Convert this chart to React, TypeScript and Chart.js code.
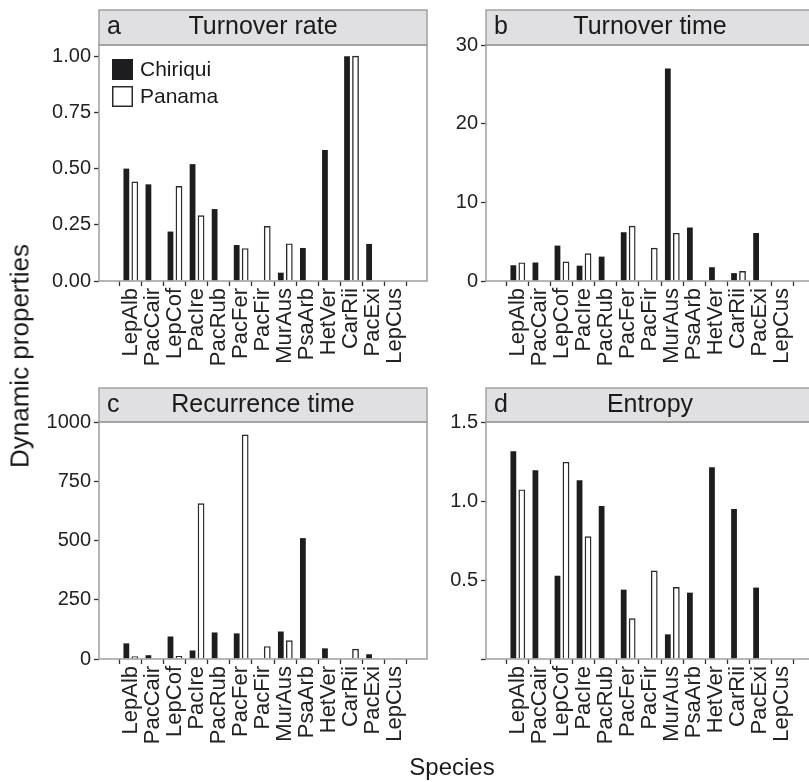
import React, { useEffect, useRef } from "react";
import { Chart, registerables } from "chart.js";

Chart.register(...registerables);

const FONT = "'Liberation Sans', Arial, Helvetica, sans-serif";

const species = ["LepAlb", "PacCair", "LepCof", "PacIre", "PacRub", "PacFer", "PacFir", "MurAus", "PsaArb", "HetVer", "CarRii", "PacExi", "LepCus"];
const seriesNames = ["Chiriqui", "Panama"];

const turnoverRateChiriqui = [0.5, 0.43, 0.22, 0.52, 0.32, 0.16, null, 0.037, 0.147, 0.583, 1.0, 0.165, null];
const turnoverRatePanama = [0.44, null, 0.42, 0.29, null, 0.144, 0.242, 0.165, null, null, 1.0, null, null];

const turnoverTimeChiriqui = [2.0, 2.35, 4.5, 1.95, 3.1, 6.2, null, 27.0, 6.8, 1.75, 1.0, 6.1, null];
const turnoverTimePanama = [2.3, null, 2.4, 3.45, null, 6.95, 4.15, 6.05, null, null, 1.2, null, null];

const recurrenceChiriqui = [66, 16, 95, 36, 112, 108, null, 116, 510, 45, null, 20, null];
const recurrencePanama = [9, null, 11, 655, null, 945, 52, 77, null, null, 41, null, null];

const entropyChiriqui = [1.315, 1.195, 0.527, 1.132, 0.969, 0.439, null, 0.156, 0.42, 1.214, 0.95, 0.452, null];
const entropyPanama = [1.07, null, 1.244, 0.773, null, 0.254, 0.557, 0.452, null, null, null, null, null];

const rateTicks = [0, 0.25, 0.5, 0.75, 1.0];
const timeTicks = [0, 10, 20, 30];
const recurrenceTicks = [0, 250, 500, 750, 1000];
const entropyTicks = [0, 0.5, 1.0, 1.5];

type Vals = (number | null)[];

interface PanelProps {
  letter: string;
  title: string;
  chiriqui: Vals;
  panama: Vals;
  ymax: number;
  ticks: number[];
  fmt: (v: number) => string;
  left: number;
  top: number;
  width: number;
  height: number;
  plotLeft: number;
  plotTop: number;
  plotRight: number;
  plotBottom: number;
  stripH: number;
  legend?: boolean;
}

const decoPlugin = {
  id: "deco",
  beforeDraw(chart: any, _args: any, opts: any) {
    const { ctx, chartArea: ca } = chart;
    ctx.save();
    const sh = opts.stripH;
    ctx.fillStyle = "#e0e0e2";
    ctx.fillRect(ca.left, ca.top - sh, ca.right - ca.left, sh);
    ctx.strokeStyle = "#a3a3a3";
    ctx.lineWidth = 1.5;
    ctx.strokeRect(ca.left, ca.top - sh, ca.right - ca.left, sh);
    ctx.fillStyle = "#1a1a1a";
    ctx.font = `25px ${FONT}`;
    ctx.textBaseline = "middle";
    ctx.textAlign = "left";
    ctx.fillText(opts.letter, ca.left + 8, ca.top - sh / 2);
    ctx.textAlign = "center";
    ctx.fillText(opts.title, (ca.left + ca.right) / 2, ca.top - sh / 2);
    ctx.restore();
  },
  afterDraw(chart: any, _args: any, opts: any) {
    const { ctx, chartArea: ca } = chart;
    ctx.save();
    ctx.strokeStyle = "#9e9e9e";
    ctx.lineWidth = 1.5;
    ctx.strokeRect(ca.left, ca.top, ca.right - ca.left, ca.bottom - ca.top);
    if (opts.legend) {
      const ds = chart.data.datasets;
      const x = ca.left + 13;
      const sz = 21;
      ds.forEach((d: any, i: number) => {
        const y = ca.top + 14 + i * 27;
        ctx.fillStyle = d.backgroundColor;
        ctx.fillRect(x, y, sz, sz);
        if (d.borderWidth) {
          ctx.strokeStyle = d.borderColor;
          ctx.lineWidth = 1.5;
          ctx.strokeRect(x + 0.75, y + 0.75, sz - 1.5, sz - 1.5);
        }
        ctx.fillStyle = "#1a1a1a";
        ctx.font = `21px ${FONT}`;
        ctx.textBaseline = "middle";
        ctx.textAlign = "left";
        ctx.fillText(d.label, x + sz + 7, y + sz / 2 + 1);
      });
    }
    ctx.restore();
  },
};

function Panel(p: PanelProps) {
  const ref = useRef<HTMLCanvasElement>(null);
  useEffect(() => {
    const toPts = (arr: Vals) =>
      arr
        .map((v, i) => (v == null ? null : { x: i, y: v }))
        .filter((d) => d !== null) as { x: number; y: number }[];
    const chart = new Chart(ref.current as HTMLCanvasElement, {
      type: "bar",
      data: {
        datasets: [
          {
            label: seriesNames[0],
            data: toPts(p.chiriqui),
            backgroundColor: "#1d1d20",
            borderWidth: 0,
            categoryPercentage: 0.77,
            barPercentage: 0.68,
          },
          {
            label: seriesNames[1],
            data: toPts(p.panama),
            backgroundColor: "#ffffff",
            borderColor: "#2a2a2a",
            borderWidth: 1.4,
            categoryPercentage: 0.77,
            barPercentage: 0.68,
            inflateAmount: 0.5,
          },
        ] as any,
      },
      options: {
        responsive: false,
        animation: false,
        devicePixelRatio: 1,
        layout: { padding: { top: p.plotTop, left: 0, right: p.width - p.plotRight, bottom: 0 } },
        plugins: {
          legend: { display: false },
          tooltip: { enabled: false },
          deco: { letter: p.letter, title: p.title, stripH: p.stripH, legend: !!p.legend },
        } as any,
        scales: {
          x: {
            type: "linear",
            min: -0.86,
            max: 12.86,
            afterBuildTicks: (s: any) => {
              s.ticks = species.map((_, i) => ({ value: i }));
            },
            afterFit: (s: any) => {
              s.height = p.height - p.plotBottom;
            },
            grid: { drawOnChartArea: false, tickLength: 5, tickColor: "#333", tickWidth: 1.3 },
            border: { display: false },
            ticks: {
              autoSkip: false,
              minRotation: 90,
              maxRotation: 90,
              padding: 2,
              color: "#222",
              font: { size: 22, family: FONT },
              callback: (v: any) => species[v] ?? "",
            },
          },
          y: {
            type: "linear",
            min: 0,
            max: p.ymax,
            afterBuildTicks: (s: any) => {
              s.ticks = p.ticks.map((v) => ({ value: v }));
            },
            afterFit: (s: any) => {
              s.width = p.plotLeft;
            },
            grid: { drawOnChartArea: false, tickLength: 5, tickColor: "#333", tickWidth: 1.3 },
            border: { display: false },
            ticks: {
              padding: 3,
              color: "#222",
              font: { size: 20, family: FONT },
              callback: (v: any) => p.fmt(Number(v)),
            },
          },
        },
      } as any,
      plugins: [decoPlugin as any],
    });
    return () => chart.destroy();
  }, []);
  return (
    <canvas
      ref={ref}
      width={p.width}
      height={p.height}
      style={{ position: "absolute", left: p.left, top: p.top, width: p.width, height: p.height }}
    />
  );
}

export default function App() {
  return (
    <div
      style={{
        position: "absolute",
        left: 0,
        top: 0,
        width: 809,
        height: 782,
        overflow: "hidden",
        background: "#fff",
        fontFamily: FONT,
      }}
    >
      <Panel
        letter="a"
        title="Turnover rate"
        chiriqui={turnoverRateChiriqui}
        panama={turnoverRatePanama}
        ymax={1.05}
        ticks={rateTicks}
        fmt={(v) => v.toFixed(2)}
        left={0}
        top={0}
        width={440}
        height={385}
        plotLeft={99}
        plotTop={45}
        plotRight={427}
        plotBottom={281}
        stripH={35}
        legend
      />
      <Panel
        letter="b"
        title="Turnover time"
        chiriqui={turnoverTimeChiriqui}
        panama={turnoverTimePanama}
        ymax={30}
        ticks={timeTicks}
        fmt={(v) => String(v)}
        left={440}
        top={0}
        width={390}
        height={385}
        plotLeft={46}
        plotTop={45}
        plotRight={374}
        plotBottom={281}
        stripH={35}
      />
      <Panel
        letter="c"
        title="Recurrence time"
        chiriqui={recurrenceChiriqui}
        panama={recurrencePanama}
        ymax={1000}
        ticks={recurrenceTicks}
        fmt={(v) => String(v)}
        left={0}
        top={380}
        width={440}
        height={402}
        plotLeft={99}
        plotTop={42}
        plotRight={427}
        plotBottom={279}
        stripH={34}
      />
      <Panel
        letter="d"
        title="Entropy"
        chiriqui={entropyChiriqui}
        panama={entropyPanama}
        ymax={1.5}
        ticks={entropyTicks}
        fmt={(v) => (v === 0 ? "" : v.toFixed(1))}
        left={440}
        top={380}
        width={390}
        height={402}
        plotLeft={46}
        plotTop={42}
        plotRight={374}
        plotBottom={279}
        stripH={34}
      />
      <div
        style={{
          position: "absolute",
          left: 20,
          top: 356,
          transform: "translate(-50%, -50%) rotate(-90deg)",
          fontSize: 26,
          color: "#1a1a1a",
          whiteSpace: "nowrap",
        }}
      >
        Dynamic properties
      </div>
      <div
        style={{
          position: "absolute",
          left: 452,
          top: 767,
          transform: "translate(-50%, -50%)",
          fontSize: 24,
          color: "#1a1a1a",
          whiteSpace: "nowrap",
        }}
      >
        Species
      </div>
    </div>
  );
}
